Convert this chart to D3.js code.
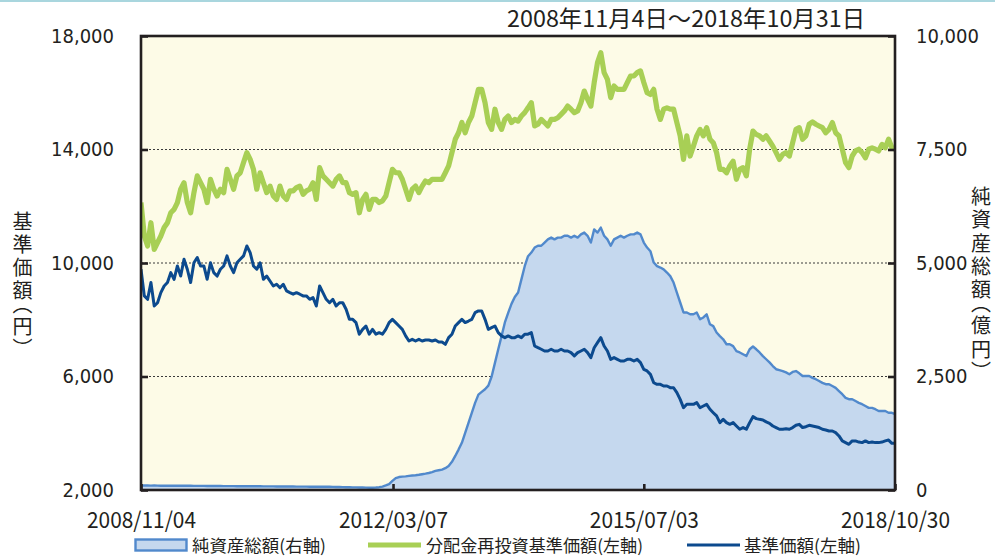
<!DOCTYPE html>
<html><head><meta charset="utf-8">
<script src="https://cdn.jsdelivr.net/npm/d3@7"></script>
<style>
html,body{margin:0;padding:0;background:#fff;}
svg{display:block;}
</style></head><body>
<svg id="chart" width="995" height="557"></svg>
<script>
// ---------- data ----------
const titleText = "2008年11月4日～2018年10月31日";
const startDate = "2008/11/04";
const endDate = "2018/10/30";
const sampleStepDays = 16; // values below are sampled every 16 calendar days from startDate
const xTickLabels = ["2008/11/04", "2012/03/07", "2015/07/03", "2018/10/30"];
const leftTicks = [2000, 6000, 10000, 14000, 18000];
const rightTicks = [0, 2500, 5000, 7500, 10000];
const gridTicks = [6000, 10000, 14000];
const seriesNames = ["純資産総額(右軸)", "分配金再投資基準価額(左軸)", "基準価額(左軸)"];
const leftAxisTitle = "基準価額（円）";
const rightAxisTitle = "純資産総額（億円）";

// 分配金再投資基準価額 (円, left axis)
const reinvestedNav = [
12130,10950,10600,11420,10480,10720,10950,11250,11420,11770,
11890,12130,12600,12830,12130,11770,12480,13070,12830,12600,
12130,12950,12600,12360,12600,12480,13300,12950,12600,13070,
13180,13540,13890,13650,13300,12600,13180,12830,12480,12710,
12360,12240,12710,12360,12240,12540,12540,12660,12710,12420,
12540,12600,12830,12240,13360,13070,12950,
12830,12710,12950,13070,12830,12830,12480,12420,12480,11770,
12240,12420,11890,12240,12240,12130,12190,12360,12830,13300,
13180,13180,12950,12600,12240,12600,12710,12480,12710,12890,
12830,12950,12950,12950,12950,13180,13420,13890,14360,14590,
14950,14590,14950,15180,15650,16120,16120,15650,14950,14710,
15420,14950,14710,15060,15180,14950,15060,
15000,15180,15300,15470,15650,14830,14890,15060,14950,14830,
15060,15060,15120,15240,15360,15530,15420,15300,15360,15650,
16060,15770,15530,16360,17060,17410,16710,16470,15830,16240,
16120,16120,16120,16360,16590,16590,16710,16770,16360,16000,
15940,16120,15420,15060,15420,15470,15420,15420,14950,14480,
13650,14480,13770,14120,14480,14710,14480,
14770,14360,14240,13890,13300,13300,13180,13420,13590,12950,
13300,13360,13070,14010,14650,14530,14480,14360,14480,14300,
14120,13890,13650,13830,13890,13770,14240,14710,14770,14360,
14480,14890,14970,14890,14830,14770,14590,14710,14950,14590,
14480,14010,13540,13360,13770,13950,14010,13890,13710,14010,
14060,14010,13950,14180,14060,14360,14060,14010
];

// 基準価額 (円, left axis)
const nav = [
9780,8840,8720,9310,8485,8600,8955,9190,9310,9660,
9425,9895,9540,10130,9780,9310,10010,10190,9895,9895,
9425,10010,9660,9540,9780,9895,10250,9895,9660,10010,
10130,10250,10600,10365,9895,9780,10010,9425,9540,9365,
9190,9250,9130,9250,9015,8955,8900,8955,8900,8840,
8840,8720,8780,8485,9190,8955,8720,
8600,8720,8485,8600,8600,8370,8015,8015,7900,7490,
7660,7780,7490,7660,7490,7545,7490,7660,7900,8015,
7900,7780,7660,7430,7250,7310,7250,7310,7250,7285,
7285,7250,7285,7215,7215,7135,7370,7490,7780,7900,
8015,7900,7955,8015,8250,8310,8310,8015,7660,7720,
7780,7545,7430,7370,7430,7370,7370,
7430,7370,7490,7490,7545,7075,7015,6960,6900,6900,
6960,6900,6900,6960,6900,6900,6840,6725,6840,6900,
6960,6840,6665,7015,7195,7370,7075,6900,6605,6665,
6605,6545,6545,6605,6605,6545,6605,6490,6250,6195,
6075,5780,5725,5725,5665,5665,5605,5605,5430,5195,
4900,5020,5020,5020,5080,4900,4960,
5020,4845,4725,4610,4375,4490,4375,4315,4375,4255,
4140,4200,4140,4375,4585,4515,4490,4470,4400,4350,
4255,4200,4140,4140,4160,4140,4200,4280,4315,4200,
4230,4280,4255,4230,4200,4140,4115,4080,4080,4020,
3905,3730,3670,3610,3730,3730,3690,3670,3730,3670,
3690,3670,3670,3690,3730,3760,3645,3645
];

// 純資産総額 (億円, right axis)
const netAssets = [
100,100,98,97,98,96,95,95,94,95,
94,93,92,92,93,92,91,90,90,90,
89,88,88,87,87,86,86,85,85,84,
84,83,83,82,82,81,81,80,80,79,
79,78,78,77,77,76,76,75,75,74,
74,73,73,72,72,71,70,
70,68,66,65,63,62,60,58,57,55,
54,52,50,50,55,62,75,100,130,200,
260,285,295,300,310,318,325,335,348,360,
375,395,420,435,450,480,530,620,750,890,
1040,1260,1480,1700,1920,2100,2160,2220,2300,2500,
2800,3100,3390,3690,3900,4100,4250,
4350,4640,4930,5150,5230,5340,5380,5380,5450,5520,
5560,5520,5560,5560,5600,5600,5560,5600,5560,5630,
5670,5600,5450,5740,5670,5780,5600,5520,5380,5520,
5560,5600,5560,5600,5630,5630,5670,5630,5450,5340,
5260,5010,4930,4900,4860,4790,4710,4570,4350,4130,
3910,3910,3870,3870,3910,3760,3800,
3870,3650,3610,3470,3390,3320,3210,3210,3170,3060,
3030,2990,2950,3100,3160,3100,3030,2950,2880,2810,
2730,2660,2640,2620,2590,2550,2600,2620,2570,2510,
2510,2510,2470,2440,2400,2360,2330,2330,2290,2250,
2180,2110,2030,2000,2000,1960,1920,1890,1850,1810,
1810,1780,1740,1740,1740,1700,1700,1670
];

// ---------- layout ----------
const W = 995, H = 557;
const P = {left: 141, right: 895, top: 36, bottom: 490};
const C = {
  ink: "#231f20", plotBg: "#fdfbe7", areaFill: "#c5d8ee", areaLine: "#5189cc",
  green: "#a8cf55", navy: "#0c4a8e", topRule: "#a9d6de"
};
const jpFont = "'Noto Sans CJK JP', 'Noto Sans', sans-serif";
const numFont = "'DejaVu Sans Condensed', 'DejaVu Sans', sans-serif";

const parseSlash = d3.timeParse("%Y/%m/%d");
const t0 = parseSlash(startDate), t1 = parseSlash(endDate);
const dates = reinvestedNav.map((_, i) => d3.timeDay.offset(t0, i * sampleStepDays));

const x = d3.scaleTime().domain([t0, t1]).range([P.left, P.right]);
const yL = d3.scaleLinear().domain([2000, 18000]).range([P.bottom, P.top]);
const yR = d3.scaleLinear().domain([0, 10000]).range([P.bottom, P.top]);

const svg = d3.select("#chart");

svg.append("rect").attr("x", 0).attr("y", 0).attr("width", W).attr("height", 2).attr("fill", C.topRule);

svg.append("defs").append("clipPath").attr("id", "plotclip")
  .append("rect").attr("x", P.left).attr("y", P.top).attr("width", P.right - P.left).attr("height", P.bottom - P.top);

svg.append("rect").attr("x", P.left).attr("y", P.top)
  .attr("width", P.right - P.left).attr("height", P.bottom - P.top).attr("fill", C.plotBg);

// grid
svg.append("g").selectAll("line").data(gridTicks).join("line")
  .attr("x1", P.left).attr("x2", P.right)
  .attr("y1", d => yL(d)).attr("y2", d => yL(d))
  .attr("stroke", "#3a3a3a").attr("stroke-width", 1).attr("stroke-dasharray", "2,2");

const plot = svg.append("g").attr("clip-path", "url(#plotclip)");

const areaGen = d3.area().x((d, i) => x(dates[i])).y0(yR(0)).y1(d => yR(d));
const areaLineGen = d3.line().x((d, i) => x(dates[i])).y(d => yR(d));
plot.append("path").datum(netAssets).attr("d", areaGen).attr("fill", C.areaFill);
plot.append("path").datum(netAssets).attr("d", areaLineGen)
  .attr("fill", "none").attr("stroke", C.areaLine).attr("stroke-width", 2.4).attr("stroke-linejoin", "round");

const lineL = d3.line().x((d, i) => x(dates[i])).y(d => yL(d));
plot.append("path").datum(reinvestedNav).attr("d", lineL)
  .attr("fill", "none").attr("stroke", C.green).attr("stroke-width", 5.2).attr("stroke-linejoin", "round");
plot.append("path").datum(nav).attr("d", lineL)
  .attr("fill", "none").attr("stroke", C.navy).attr("stroke-width", 3).attr("stroke-linejoin", "round");

// frame
svg.append("rect").attr("x", P.left).attr("y", P.top)
  .attr("width", P.right - P.left).attr("height", P.bottom - P.top)
  .attr("fill", "none").attr("stroke", C.ink).attr("stroke-width", 2.6);

// axes
function styleAxis(g, font, size) {
  g.select(".domain").remove();
  g.selectAll(".tick line").attr("stroke", C.ink).attr("stroke-width", 2.6);
  g.selectAll(".tick text").attr("fill", C.ink).style("font-family", font).style("font-size", size + "px");
}
const gL = svg.append("g").attr("transform", `translate(${P.left},0)`)
  .call(d3.axisLeft(yL).tickValues(leftTicks).tickFormat(d3.format(",")).tickSizeInner(-7).tickSizeOuter(0).tickPadding(27));
styleAxis(gL, numFont, 20);

const gR = svg.append("g").attr("transform", `translate(${P.right},0)`)
  .call(d3.axisRight(yR).tickValues(rightTicks).tickFormat(d3.format(",")).tickSizeInner(-7).tickSizeOuter(0).tickPadding(21));
styleAxis(gR, numFont, 20);

const gB = svg.append("g").attr("transform", `translate(0,${P.bottom})`)
  .call(d3.axisBottom(x).tickValues(xTickLabels.map(parseSlash)).tickFormat(d3.timeFormat("%Y/%m/%d"))
    .tickSizeInner(-6).tickSizeOuter(0).tickPadding(22));
styleAxis(gB, jpFont, 22);
gB.selectAll(".tick text").attr("textLength", 109).attr("lengthAdjust", "spacingAndGlyphs");

// title
svg.append("text").attr("x", 507).attr("y", 27).text(titleText)
  .attr("fill", C.ink).style("font-family", jpFont).style("font-size", "23px")
  .attr("textLength", 358).attr("lengthAdjust", "spacingAndGlyphs");

// axis titles (vertical)
svg.append("text").attr("x", 22.5).attr("y", 282).attr("text-anchor", "middle")
  .style("writing-mode", "vertical-rl").style("letter-spacing", "3px")
  .style("font-feature-settings", "'vpal' 1")
  .style("font-family", jpFont).style("font-size", "20px").attr("fill", C.ink).text(leftAxisTitle);
svg.append("text").attr("x", 981).attr("y", 281).attr("text-anchor", "middle")
  .style("writing-mode", "vertical-rl").style("letter-spacing", "3.2px")
  .style("font-feature-settings", "'vpal' 1")
  .style("font-family", jpFont).style("font-size", "20px").attr("fill", C.ink).text(rightAxisTitle);

// legend
const lg = svg.append("g");
lg.append("rect").attr("x", 135.5).attr("y", 539.5).attr("width", 51).attr("height", 11)
  .attr("fill", C.areaFill).attr("stroke", C.areaLine).attr("stroke-width", 2.4);
lg.append("line").attr("x1", 368).attr("x2", 421).attr("y1", 545).attr("y2", 545)
  .attr("stroke", C.green).attr("stroke-width", 5);
lg.append("line").attr("x1", 687).attr("x2", 740).attr("y1", 545).attr("y2", 545)
  .attr("stroke", C.navy).attr("stroke-width", 3);
const legendText = [[192, 134], [426, 217], [744, 117]];
seriesNames.forEach((n, i) => {
  lg.append("text").attr("x", legendText[i][0]).attr("y", 551.5).text(n)
    .attr("fill", C.ink).style("font-family", jpFont).style("font-size", "17px")
    .attr("textLength", legendText[i][1]).attr("lengthAdjust", "spacingAndGlyphs");
});
</script>
</body></html>
